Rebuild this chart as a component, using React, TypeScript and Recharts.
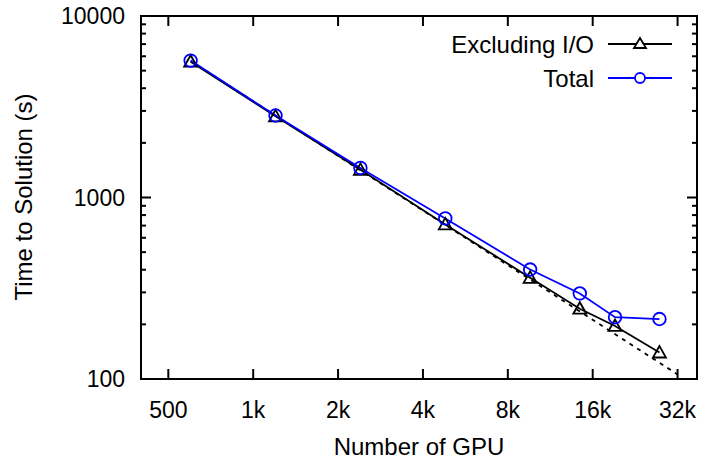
import React from 'react';
import { LineChart, Line, XAxis, YAxis, Legend, ReferenceArea, ReferenceLine } from 'recharts';

const gpus = [600, 1200, 2400, 4800, 9600, 14400, 19200, 27600];
const excludingIO = [5600, 2800, 1420, 711, 361, 244, 196, 140];
const totalTime = [5680, 2830, 1455, 767, 401, 296, 219, 214];
const idealGpus = [600, 32000];
const idealTime = [5650, 106];

const xTicks = [500, 1000, 2000, 4000, 8000, 16000, 32000];
const xTickLabels = ['500', '1k', '2k', '4k', '8k', '16k', '32k'];
const yTicks = [100, 200, 300, 400, 500, 600, 700, 800, 900, 1000, 2000, 3000, 4000, 5000, 6000, 7000, 8000, 9000, 10000];
const yMajor = [100, 1000, 10000];

const data = gpus.map((g, i) => ({ gpus: g, excl: excludingIO[i], total: totalTime[i] }));
const idealData = idealGpus.map((g, i) => ({ gpus: g, ideal: idealTime[i] }));

const FONT = '"Liberation Sans", Arial, sans-serif';
const FS = 23;
const FSL = 24;

const BottomTick = (p: any) => {
  const { x, y, payload } = p;
  const idx = xTicks.indexOf(payload.value);
  return (
    <g>
      <line x1={x} y1={y} x2={x} y2={y - 10} stroke="#000" strokeWidth={2} />
      <text x={x} y={y + 39} textAnchor="middle" fontFamily={FONT} fontSize={FS} fill="#000">
        {idx >= 0 ? xTickLabels[idx] : ''}
      </text>
    </g>
  );
};

const LeftTick = (p: any) => {
  const { x, y, payload } = p;
  const major = yMajor.includes(payload.value);
  return (
    <g>
      <line x1={x} y1={y} x2={x + (major ? 10 : 5)} y2={y} stroke="#000" strokeWidth={2} />
      {major && (
        <text x={x - 16} y={y + 8} textAnchor="end" fontFamily={FONT} fontSize={FS} fill="#000">
          {String(payload.value)}
        </text>
      )}
    </g>
  );
};

const topTickShape = (p: any) => {
  const x = p.x1;
  const top = Math.min(p.y1, p.y2);
  return <line x1={x} y1={top} x2={x} y2={top + 10} stroke="#000" strokeWidth={2} />;
};

const makeRightTickShape = (len: number) => (p: any) => {
  const y = p.y1;
  const right = Math.max(p.x1, p.x2);
  return <line x1={right} y1={y} x2={right - len} y2={y} stroke="#000" strokeWidth={2} />;
};
const rightMajorShape = makeRightTickShape(10);
const rightMinorShape = makeRightTickShape(5);

const Triangle = (p: any) => {
  const { cx, cy, index } = p;
  if (cx == null || cy == null) return <g key={`t${index}`} />;
  return (
    <polygon
      key={`t${index}`}
      points={`${cx},${cy - 6.5} ${cx - 6.5},${cy + 5} ${cx + 6.5},${cy + 5}`}
      fill="none"
      stroke="#000"
      strokeWidth={1.8}
    />
  );
};

const Circle = (p: any) => {
  const { cx, cy, index } = p;
  if (cx == null || cy == null) return <g key={`c${index}`} />;
  return <circle key={`c${index}`} cx={cx} cy={cy} r={6.3} fill="none" stroke="#0000ff" strokeWidth={1.8} />;
};

const renderLegend = () => (
  <svg width={701} height={100} style={{ display: 'block' }}>
    <text x={594} y={53} textAnchor="end" fontFamily={FONT} fontSize={FSL} fill="#000">Excluding I/O</text>
    <line x1={608} y1={44} x2={672} y2={44} stroke="#000" strokeWidth={1.8} />
    <polygon points="640,38 634,48 646,48" fill="#fff" stroke="#000" strokeWidth={1.8} />
    <text x={594} y={87} textAnchor="end" fontFamily={FONT} fontSize={FSL} fill="#000">Total</text>
    <line x1={608} y1={78} x2={672} y2={78} stroke="#0000ff" strokeWidth={1.8} />
    <circle cx={640} cy={78} r={5} fill="#fff" stroke="#0000ff" strokeWidth={1.8} />
  </svg>
);

export default function App() {
  return (
    <div style={{ position: 'absolute', left: 0, top: 0, width: 701, height: 459, background: '#fff' }}>
      <LineChart width={701} height={459} data={data} margin={{ top: 16, right: 4, left: 0, bottom: 0 }}>
        <XAxis
          xAxisId="bottom"
          dataKey="gpus"
          type="number"
          scale="log"
          domain={[400, 37500]}
          allowDataOverflow
          ticks={xTicks}
          interval={0}
          height={80}
          tickSize={0}
          tickMargin={0}
          tickLine={false}
          axisLine={{ stroke: '#000', strokeWidth: 2 }}
          tick={<BottomTick />}
          label={{
            content: () => (
              <text x={419} y={455} textAnchor="middle" fontFamily={FONT} fontSize={FSL} fill="#000">
                Number of GPU
              </text>
            ),
          }}
        />
        <YAxis
          yAxisId="left"
          type="number"
          scale="log"
          domain={[100, 10000]}
          allowDataOverflow
          ticks={yTicks}
          interval={0}
          width={141}
          tickSize={0}
          tickMargin={0}
          tickLine={false}
          axisLine={{ stroke: '#000', strokeWidth: 2 }}
          tick={<LeftTick />}
          label={{
            content: () => (
              <text
                x={23}
                y={197}
                transform="rotate(-90 23 197)"
                textAnchor="middle"
                dominantBaseline="central"
                fontFamily={FONT}
                fontSize={FSL}
                fill="#000"
              >
                Time to Solution (s)
              </text>
            ),
          }}
        />
        <ReferenceArea
          xAxisId="bottom"
          yAxisId="left"
          x1={400}
          x2={37500}
          y1={100}
          y2={10000}
          fill="none"
          fillOpacity={0}
          stroke="#000"
          strokeWidth={2}
          ifOverflow="visible"
        />
        {xTicks.map((t) => (
          <ReferenceLine
            key={`tx${t}`}
            xAxisId="bottom"
            yAxisId="left"
            x={t}
            stroke="#000"
            shape={topTickShape}
            ifOverflow="visible"
          />
        ))}
        {yTicks.map((t) => (
          <ReferenceLine
            key={`ry${t}`}
            xAxisId="bottom"
            yAxisId="left"
            y={t}
            stroke="#000"
            shape={yMajor.includes(t) ? rightMajorShape : rightMinorShape}
            ifOverflow="visible"
          />
        ))}
        <Legend
          layout="horizontal"
          verticalAlign="middle"
          align="center"
          content={renderLegend}
          wrapperStyle={{ position: 'absolute', left: 0, top: 0, width: 701, height: 100 }}
        />
        <Line
          xAxisId="bottom"
          yAxisId="left"
          data={idealData}
          dataKey="ideal"
          stroke="#000"
          strokeWidth={1.8}
          strokeDasharray="4 5"
          dot={false}
          isAnimationActive={false}
          legendType="none"
        />
        <Line
          xAxisId="bottom"
          yAxisId="left"
          dataKey="excl"
          stroke="#000"
          strokeWidth={1.8}
          dot={Triangle}
          isAnimationActive={false}
        />
        <Line
          xAxisId="bottom"
          yAxisId="left"
          dataKey="total"
          stroke="#0000ff"
          strokeWidth={1.8}
          dot={Circle}
          isAnimationActive={false}
        />
      </LineChart>
    </div>
  );
}
